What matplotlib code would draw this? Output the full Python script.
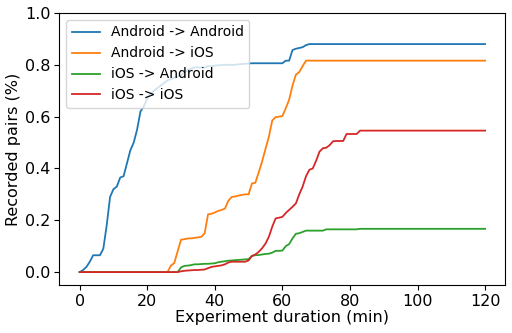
import numpy as np
import matplotlib
matplotlib.use("Agg")
import matplotlib.pyplot as plt

minutes = list(range(0, 121))

android_android_head = [0, 0.008, 0.02, 0.04, 0.065, 0.065, 0.065, 0.09, 0.18, 0.29,
                        0.32, 0.33, 0.365, 0.37, 0.42, 0.47, 0.50, 0.55, 0.62, 0.64,
                        0.67, 0.69, 0.70, 0.71, 0.72, 0.73, 0.74, 0.745, 0.75, 0.755,
                        0.76, 0.77, 0.78, 0.785, 0.79, 0.79, 0.79, 0.79, 0.795, 0.795,
                        0.797, 0.798, 0.799, 0.80, 0.80, 0.80, 0.80, 0.802, 0.803, 0.804,
                        0.805, 0.806, 0.806, 0.806, 0.806, 0.806, 0.806, 0.806, 0.806, 0.806,
                        0.806, 0.816, 0.816, 0.857, 0.862, 0.865, 0.868, 0.876]
android_ios_head = [0] * 27 + [0.025, 0.035, 0.08, 0.125, 0.127, 0.13, 0.13, 0.132, 0.134,
                               0.136, 0.15, 0.223, 0.225, 0.23, 0.236, 0.24, 0.245, 0.275,
                               0.29, 0.292, 0.295, 0.298, 0.30, 0.30, 0.342, 0.345, 0.385,
                               0.427, 0.475, 0.522, 0.585, 0.598, 0.60, 0.602, 0.632, 0.665,
                               0.72, 0.762, 0.772, 0.795]
ios_android_head = [0] * 30 + [0.018, 0.024, 0.025, 0.027, 0.03, 0.03, 0.031, 0.032, 0.032,
                               0.033, 0.034, 0.038, 0.04, 0.042, 0.044, 0.045, 0.046, 0.047,
                               0.048, 0.049, 0.05, 0.063, 0.065, 0.066, 0.068, 0.07, 0.071,
                               0.075, 0.082, 0.082, 0.083, 0.10, 0.108, 0.13, 0.148, 0.15,
                               0.155, 0.16, 0.16, 0.16, 0.16, 0.16, 0.16, 0.165, 0.165, 0.165,
                               0.165, 0.165, 0.165, 0.165, 0.165, 0.165, 0.165]
ios_ios_head = [0] * 30 + [0.003, 0.005, 0.006, 0.007, 0.008, 0.008, 0.009, 0.01, 0.015,
                           0.02, 0.022, 0.024, 0.026, 0.03, 0.037, 0.04, 0.04, 0.04, 0.04,
                           0.04, 0.045, 0.062, 0.068, 0.078, 0.092, 0.11, 0.136, 0.175,
                           0.207, 0.21, 0.213, 0.228, 0.24, 0.252, 0.265, 0.30, 0.33, 0.37,
                           0.395, 0.40, 0.43, 0.465, 0.478, 0.48, 0.49, 0.505, 0.506, 0.506,
                           0.506, 0.533, 0.533, 0.533, 0.533]

def extend(head, final):
    return head + [final] * (len(minutes) - len(head))

series = {
    "Android -> Android": extend(android_android_head, 0.88),
    "Android -> iOS": extend(android_ios_head, 0.816),
    "iOS -> Android": extend(ios_android_head, 0.167),
    "iOS -> iOS": extend(ios_ios_head, 0.546),
}
colors = ["#1f77b4", "#ff7f0e", "#2ca02c", "#d62728"]

plt.rcParams['font.family'] = ['DejaVu Sans']
fig = plt.figure(figsize=(5.12, 3.33), dpi=100)
ax = fig.add_axes([0.116, 0.144, 0.871, 0.817])
for (name, vals), c in zip(series.items(), colors):
    ax.plot(minutes, vals, color=c, label=name, linewidth=1.3)
ax.set_ylim(-0.05, 1.0)
ax.set_xticks([0, 20, 40, 60, 80, 100, 120])
ax.set_yticks([0.0, 0.2, 0.4, 0.6, 0.8, 1.0])
ax.tick_params(labelsize=11.5, pad=3)
ax.set_xlabel("Experiment duration (min)", fontsize=11.5, labelpad=1)
ax.set_ylabel("Recorded pairs (%)", fontsize=11.5, labelpad=3)
ax.legend(loc="upper left", fontsize=10, handlelength=2.0)
fig.savefig("out.png", dpi=100)
